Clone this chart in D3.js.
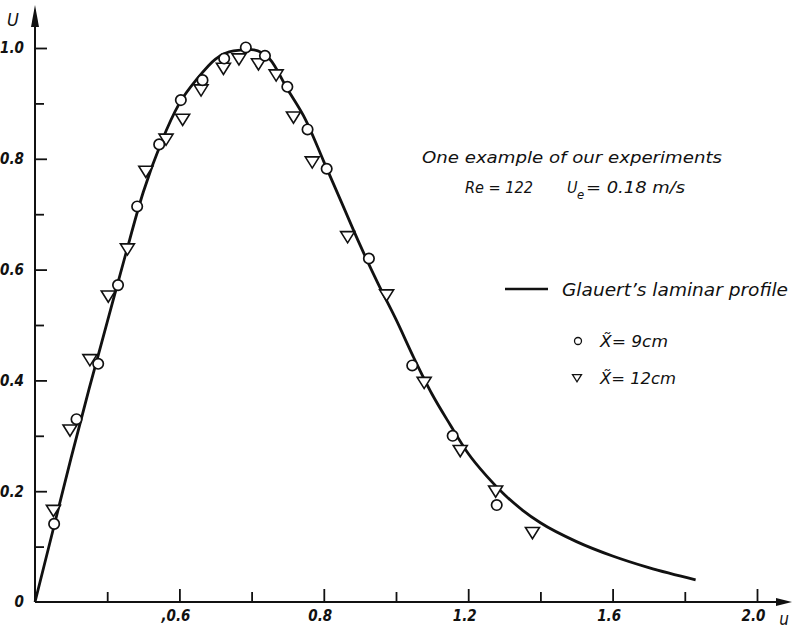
<!DOCTYPE html>
<html>
<head>
<meta charset="utf-8">
<script src="https://cdn.jsdelivr.net/npm/d3@7"></script>
<style>
  body { margin: 0; background: #fff; }
  text { font-family: "DejaVu Sans Condensed", "Liberation Sans Narrow", "DejaVu Sans", sans-serif; font-style: italic; fill: #111; }
</style>
</head>
<body>
<svg id="chart" width="792" height="630"></svg>
<script>
// Glauert's laminar profile
const curveX = [0, 0.05, 0.1, 0.15, 0.2, 0.25, 0.3, 0.35, 0.4, 0.45, 0.5, 0.55, 0.6, 0.65, 0.7, 0.75, 0.8, 0.85, 0.9, 0.95, 1.0, 1.05, 1.1, 1.15, 1.2, 1.25, 1.3, 1.35, 1.4, 1.5, 1.6, 1.7, 1.83]
const curveY = [0, 0.13, 0.26, 0.385, 0.505, 0.625, 0.74, 0.83, 0.9, 0.945, 0.98, 0.995, 0.997, 0.98, 0.925, 0.87, 0.795, 0.72, 0.645, 0.575, 0.51, 0.44, 0.375, 0.32, 0.268, 0.228, 0.194, 0.166, 0.143, 0.109, 0.083, 0.062, 0.04]

// X~ = 9 cm (circles)
const circleX = [0.053, 0.115, 0.175, 0.230, 0.283, 0.344, 0.404, 0.464, 0.524, 0.584, 0.637, 0.699, 0.755, 0.808, 0.925, 1.045, 1.157, 1.279]
const circleY = [0.141, 0.330, 0.430, 0.572, 0.714, 0.826, 0.906, 0.942, 0.981, 1.001, 0.986, 0.930, 0.853, 0.782, 0.620, 0.427, 0.300, 0.175]

// X~ = 12 cm (triangles)
const triX = [0.051, 0.097, 0.152, 0.203, 0.256, 0.307, 0.363, 0.409, 0.460, 0.522, 0.565, 0.619, 0.668, 0.716, 0.768, 0.866, 0.974, 1.078, 1.178, 1.276, 1.378]
const triY = [0.165, 0.310, 0.437, 0.552, 0.637, 0.777, 0.835, 0.871, 0.924, 0.963, 0.980, 0.971, 0.951, 0.875, 0.794, 0.659, 0.554, 0.396, 0.273, 0.200, 0.125]

const xMajor = [0.4, 0.8, 1.2, 1.6, 2.0]
const xMajorLabels = [',0.6', '0.8', '1.2', '1.6', '2.0']
const xMinor = [0.2, 0.6, 1.0, 1.4, 1.8]
const yMajor = [0, 0.2, 0.4, 0.6, 0.8, 1.0]
const yMajorLabels = ['0', '0.2', '0.4', '0.6', '0.8', '1.0']
const yMinor = [0.1, 0.3, 0.5, 0.7, 0.9]

const svg = d3.select('#chart')
const x = d3.scaleLinear().domain([0, 2]).range([35, 757])
const y = d3.scaleLinear().domain([0, 1]).range([602, 48])

// axes: ticks point inward
const gx = svg.append('g').attr('transform', 'translate(0,' + y(0) + ')')
gx.call(d3.axisBottom(x).tickValues(xMinor).tickSize(-10).tickFormat(''))
gx.append('g').call(d3.axisBottom(x).tickValues(xMajor).tickSize(-13).tickPadding(8)
  .tickFormat(function (d, i) { return xMajorLabels[i] }))
gx.selectAll('.domain').remove()
gx.selectAll('line').attr('stroke', '#111').attr('stroke-width', 1.8)
gx.selectAll('text').attr('font-size', 15).attr('font-weight', 'bold').attr('fill', '#222').attr('dx', -4)

const gy = svg.append('g').attr('transform', 'translate(' + x(0) + ',0)')
gy.call(d3.axisLeft(y).tickValues(yMinor).tickSize(-9).tickFormat(''))
gy.append('g').call(d3.axisLeft(y).tickValues(yMajor).tickSize(-12).tickPadding(11)
  .tickFormat(function (d, i) { return yMajorLabels[i] }))
gy.selectAll('.domain').remove()
gy.selectAll('line').attr('stroke', '#111').attr('stroke-width', 1.8)
gy.selectAll('text').attr('font-size', 15).attr('font-weight', 'bold').attr('fill', '#222')
gy.selectAll('.tick').filter(function (d) { return d === 0 }).select('line').remove()

// axis lines with arrow heads
svg.append('line').attr('x1', x(0)).attr('y1', y(0)).attr('x2', 780).attr('y2', y(0))
  .attr('stroke', '#111').attr('stroke-width', 2)
svg.append('path').attr('d', 'M776,' + (y(0) - 4) + 'L792,' + y(0) + 'L776,' + (y(0) + 4) + 'Z').attr('fill', '#111')
svg.append('line').attr('x1', x(0)).attr('y1', y(0)).attr('x2', x(0)).attr('y2', 22)
  .attr('stroke', '#111').attr('stroke-width', 2)
svg.append('path').attr('d', 'M' + (x(0) - 4) + ',27L' + x(0) + ',5L' + (x(0) + 4) + ',27Z').attr('fill', '#111')

svg.append('text').attr('x', 13).attr('y', 26).attr('font-size', 18).attr('text-anchor', 'middle').text('U')
svg.append('text').attr('x', 784).attr('y', 625).attr('font-size', 17).attr('text-anchor', 'middle').text('u')

// Glauert curve
const curve = curveX.map(function (v, i) { return [v, curveY[i]] })
svg.append('path')
  .datum(curve)
  .attr('fill', 'none')
  .attr('stroke', '#111')
  .attr('stroke-width', 2.8)
  .attr('d', d3.line().x(function (d) { return x(d[0]) }).y(function (d) { return y(d[1]) }).curve(d3.curveMonotoneX))

const triPath = function (s) { return 'M' + (-s) + ',' + (-s * 0.75) + 'L' + s + ',' + (-s * 0.75) + 'L0,' + (s * 0.85) + 'Z' }

svg.append('g').selectAll('path')
  .data(triX.map(function (v, i) { return [v, triY[i]] }))
  .join('path')
  .attr('transform', function (d) { return 'translate(' + x(d[0]) + ',' + y(d[1]) + ')' })
  .attr('d', triPath(7))
  .attr('fill', '#fff')
  .attr('stroke', '#111')
  .attr('stroke-width', 1.6)

svg.append('g').selectAll('circle')
  .data(circleX.map(function (v, i) { return [v, circleY[i]] }))
  .join('circle')
  .attr('cx', function (d) { return x(d[0]) })
  .attr('cy', function (d) { return y(d[1]) })
  .attr('r', 5.2)
  .attr('fill', '#fff')
  .attr('stroke', '#111')
  .attr('stroke-width', 1.7)

// annotation
const note = svg.append('g')
note.append('text').attr('x', 422).attr('y', 163).attr('font-size', 16)
  .attr('textLength', 300).attr('lengthAdjust', 'spacingAndGlyphs').text('One example of our experiments')
note.append('text').attr('x', 465).attr('y', 193).attr('font-size', 16)
  .attr('textLength', 68).attr('lengthAdjust', 'spacingAndGlyphs').text('Re = 122')
note.append('text').attr('x', 567).attr('y', 193).attr('font-size', 16).text('U')
note.append('text').attr('x', 577).attr('y', 199).attr('font-size', 13).text('e')
note.append('text').attr('x', 586).attr('y', 193).attr('font-size', 16)
  .attr('textLength', 99).attr('lengthAdjust', 'spacingAndGlyphs').text('= 0.18 m/s')

// legend
const legend = svg.append('g')
legend.append('line').attr('x1', 505).attr('x2', 548).attr('y1', 289).attr('y2', 289)
  .attr('stroke', '#111').attr('stroke-width', 2.6)
legend.append('text').attr('x', 562).attr('y', 296).attr('font-size', 17)
  .attr('textLength', 226).attr('lengthAdjust', 'spacingAndGlyphs').text('Glauert\u2019s laminar profile')
legend.append('circle').attr('cx', 578).attr('cy', 341).attr('r', 3.5)
  .attr('fill', '#fff').attr('stroke', '#111').attr('stroke-width', 1.3)
legend.append('text').attr('x', 600).attr('y', 347).attr('font-size', 16)
  .attr('textLength', 68).attr('lengthAdjust', 'spacingAndGlyphs').text('X\u0303= 9cm')
legend.append('path').attr('transform', 'translate(577,378)').attr('d', triPath(4.5))
  .attr('fill', '#fff').attr('stroke', '#111').attr('stroke-width', 1.3)
legend.append('text').attr('x', 600).attr('y', 384).attr('font-size', 16)
  .attr('textLength', 76).attr('lengthAdjust', 'spacingAndGlyphs').text('X\u0303= 12cm')
</script>
</body>
</html>
